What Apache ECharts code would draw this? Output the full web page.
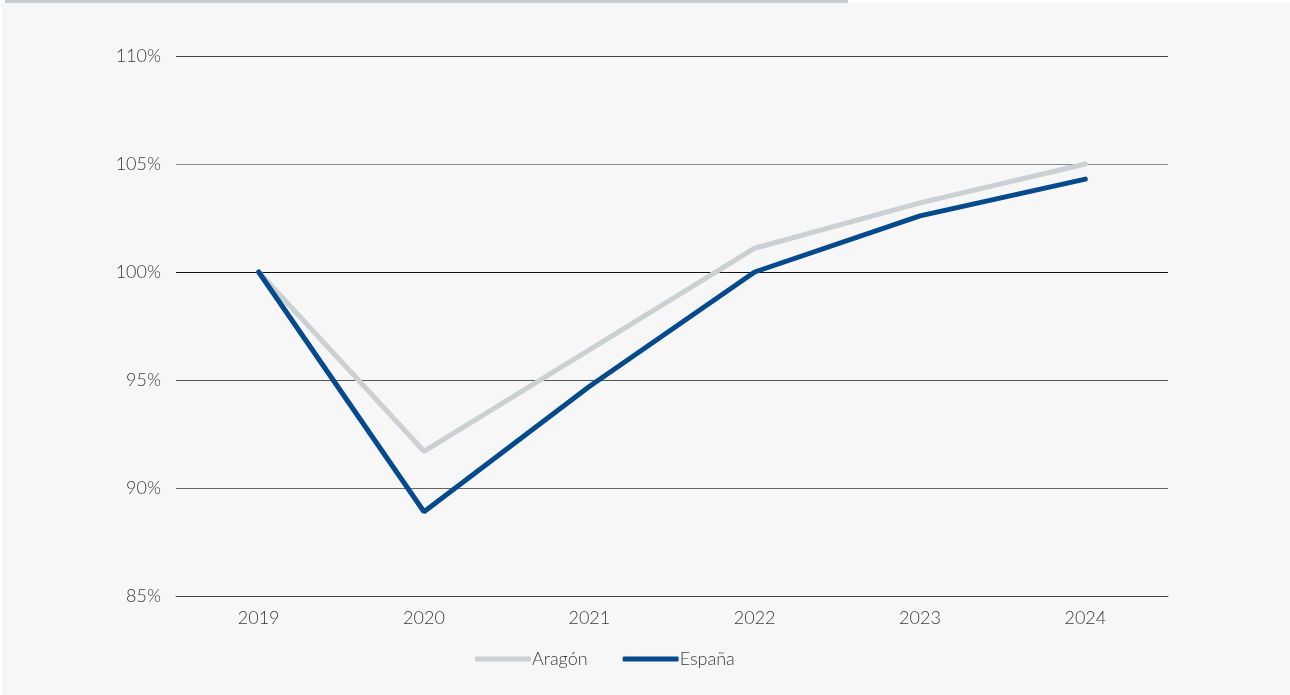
<!DOCTYPE html>
<html>
<head>
<meta charset="utf-8">
<script src="https://cdn.jsdelivr.net/npm/echarts@6/dist/echarts.min.js"></script>
<style>
  html, body { margin: 0; padding: 0; background: #ffffff; }
  #chart { width: 1290px; height: 695px; }
</style>
</head>
<body>
<div id="chart"></div>
<script>
let years = ["2019", "2020", "2021", "2022", "2023", "2024"];
let aragon = [100, 91.7, 96.4, 101.1, 103.2, 105.0];
let espana = [100, 88.9, 94.7, 100.0, 102.6, 104.3];

let font = "Lato";
let textColor = "#3a3a3a";

let chart = echarts.init(document.getElementById("chart"));
let option = {
    backgroundColor: "#ffffff",
    graphic: [
        {
            type: "rect",
            left: 2,
            top: 3,
            shape: { width: 1288, height: 692 },
            style: { fill: "#f7f7f7" },
            silent: true,
            z: -10
        },
        {
            type: "rect",
            left: 5,
            top: 0,
            shape: { width: 843, height: 3 },
            style: { fill: "#c8cdd0" },
            silent: true,
            z: -10
        }
    ],
    grid: {
        left: 176,
        right: 122,
        top: 56,
        bottom: 99
    },
    legend: {
        top: 645,
        left: 470,
        itemWidth: 56,
        itemHeight: 5,
        itemGap: 35,
        icon: "roundRect",
        textStyle: {
            fontFamily: font,
            fontWeight: 300,
            fontSize: 18,
            color: textColor,
            padding: [0, 0, 0, -4]
        },
        data: ["Aragón", "España"]
    },
    xAxis: {
        type: "category",
        data: years,
        boundaryGap: true,
        axisLine: { lineStyle: { color: "#444", width: 1 } },
        axisTick: { show: false },
        axisLabel: {
            margin: 13,
            fontFamily: font,
            fontWeight: 300,
            fontSize: 18,
            color: textColor
        }
    },
    yAxis: {
        type: "value",
        min: 85,
        max: 110,
        interval: 5,
        axisLine: { show: false },
        axisTick: { show: false },
        axisLabel: {
            margin: 15,
            fontFamily: font,
            fontWeight: 300,
            fontSize: 18,
            color: textColor,
            formatter: "{value}%"
        },
        splitLine: {
            lineStyle: {
                color: ["#444", "#666", "#555", "#111", "#888", "#444"],
                width: 1
            }
        }
    },
    series: [
        {
            name: "Aragón",
            type: "line",
            data: aragon,
            symbol: "none",
            lineStyle: { color: "#cbd0d2", width: 5, cap: "round" },
            itemStyle: { color: "#cbd0d2" },
            z: 2
        },
        {
            name: "España",
            type: "line",
            data: espana,
            symbol: "none",
            lineStyle: { color: "#064a8e", width: 5, cap: "round" },
            itemStyle: { color: "#064a8e" },
            z: 3
        }
    ]
};
chart.setOption(option);
</script>
</body>
</html>
